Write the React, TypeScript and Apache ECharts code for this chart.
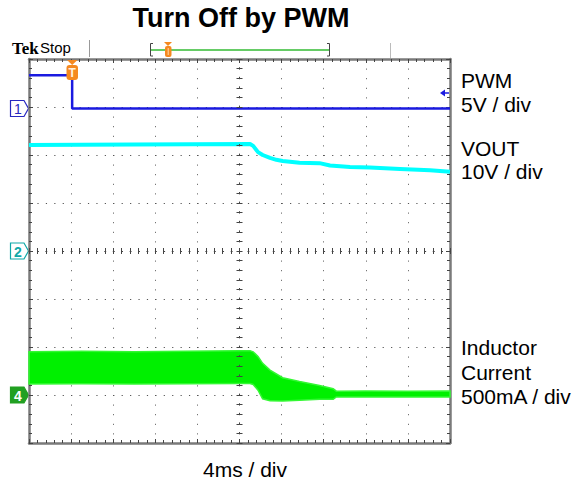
import React, { useEffect, useRef } from "react";
import * as echarts from "echarts";

// time in ms (4 ms / div, 10 divisions)
const pwmTime = [0, 4.1, 4.1, 40];
const pwmVolts = [3.3, 3.3, -0.15, -0.15];

const voutTime = [0, 10, 21.0, 21.3, 21.76, 22.2, 22.9, 23.5, 24.1, 25.7, 27.6, 28.6, 30.5, 32.4, 35.25, 38.1, 40];
const voutVolts = [22.1, 22.2, 22.3, 21.9, 20.6, 20.0, 19.4, 19.0, 18.75, 18.4, 18.3, 17.8, 17.5, 17.4, 17.1, 16.8, 16.5];

const currTime = [0, 5, 10, 15, 20, 21.0, 21.3, 21.76, 22.2, 22.9, 24.1, 25.7, 27.6, 28.9, 29.2, 32, 36, 40];
const currUpper = [0.45, 0.455, 0.45, 0.455, 0.46, 0.46, 0.45, 0.4, 0.33, 0.26, 0.18, 0.14, 0.1, 0.065, 0.04, 0.042, 0.04, 0.042];
const currLower = [0.115, 0.118, 0.115, 0.118, 0.12, 0.12, 0.11, 0.05, -0.04, -0.06, -0.063, -0.055, -0.045, -0.045, -0.02, -0.02, -0.022, -0.02];

const xTicks = { min: 0, max: 40, interval: 4 };
const yDivs = { min: -4, max: 4, interval: 1 };

const FONT = "'Liberation Sans', Arial, sans-serif";

export default function App() {
  const ref = useRef<HTMLDivElement>(null);
  useEffect(() => {
    document.body.style.margin = "0";
    if (!ref.current) return;
    const chart = echarts.init(ref.current, undefined, { renderer: "svg" });

    const borderLine = { show: true, onZero: false, lineStyle: { color: "#7a7a7a", width: 2.5 } };
    const xBase = { type: "value", ...xTicks, axisLabel: { show: false }, gridIndex: 0 };
    const yBase = { type: "value", ...yDivs, axisLabel: { show: false }, gridIndex: 0 };
    const tickStyle = { color: "#444", width: 1 };

    const xAxis: any[] = [
      {
        ...xBase,
        position: "bottom",
        axisLine: borderLine,
        axisTick: { show: true, inside: true, length: 4, lineStyle: tickStyle },
        minorTick: { show: true, splitNumber: 5, length: 3, lineStyle: tickStyle },
        splitLine: { show: true, lineStyle: { color: "#555", width: 1, type: [1, 8.6] } },
      },
      {
        ...xBase,
        position: "top",
        axisLine: borderLine,
        axisTick: { show: true, inside: true, length: 4, lineStyle: tickStyle },
        minorTick: { show: true, splitNumber: 5, length: 3, lineStyle: tickStyle },
        splitLine: { show: false },
      },
      {
        ...xBase,
        position: "bottom",
        offset: -192,
        z: 10,
        axisLine: { show: true, onZero: false, lineStyle: { color: "#444", width: 1, type: [1, 7.42] } },
        axisTick: { show: true, inside: true, length: 3, lineStyle: tickStyle },
        minorTick: { show: true, splitNumber: 5, length: 3, lineStyle: tickStyle },
        splitLine: { show: false },
      },
      {
        ...xBase,
        position: "bottom",
        offset: -192,
        z: 10,
        axisLine: { show: false, onZero: false },
        axisTick: { show: true, inside: false, length: 3, lineStyle: tickStyle },
        minorTick: { show: true, splitNumber: 5, length: 3, lineStyle: tickStyle },
        splitLine: { show: false },
      },
    ];

    const yAxis: any[] = [
      {
        ...yBase,
        position: "left",
        axisLine: borderLine,
        axisTick: { show: true, inside: true, length: 4, lineStyle: tickStyle },
        minorTick: { show: true, splitNumber: 5, length: 3, lineStyle: tickStyle },
        splitLine: { show: true, lineStyle: { color: "#555", width: 1, type: [1.2, 7.22] } },
      },
      {
        ...yBase,
        position: "right",
        axisLine: borderLine,
        axisTick: { show: true, inside: true, length: 4, lineStyle: tickStyle },
        minorTick: { show: true, splitNumber: 5, length: 3, lineStyle: tickStyle },
        splitLine: { show: false },
      },
      {
        ...yBase,
        position: "left",
        offset: -210.5,
        z: 10,
        axisLine: { show: true, onZero: false, lineStyle: { color: "#444", width: 1, type: [1, 8.6] } },
        axisTick: { show: true, inside: true, length: 3, lineStyle: tickStyle },
        minorTick: { show: true, splitNumber: 5, length: 3, lineStyle: tickStyle },
        splitLine: { show: false },
      },
      {
        ...yBase,
        position: "left",
        offset: -210.5,
        z: 10,
        axisLine: { show: false, onZero: false },
        axisTick: { show: true, inside: false, length: 3, lineStyle: tickStyle },
        minorTick: { show: true, splitNumber: 5, length: 3, lineStyle: tickStyle },
        splitLine: { show: false },
      },
      // channel axes (hidden): PWM 5V/div offset +3 div, VOUT 10V/div centered, current 0.5A/div offset -3 div
      { type: "value", show: false, min: -35, max: 5 },
      { type: "value", show: false, min: -40, max: 40 },
      { type: "value", show: false, min: -0.5, max: 3.5 },
    ];

    const pwmData = pwmTime.map((t, i) => [t, pwmVolts[i]]);
    const voutData = voutTime.map((t, i) => [t, voutVolts[i]]);
    const bandData = currTime.map((t, i) => [t, currLower[i], currUpper[i]]);

    const green = "#00f000";

    const markerPoly = (cy: number) => [
      [10.5, cy - 8],
      [24, cy - 8],
      [28.5, cy],
      [24, cy + 8],
      [10.5, cy + 8],
    ];

    const label = (text: string, y: number) => ({
      type: "text",
      style: { text, x: 461, y, font: `21px ${FONT}`, fill: "#000", align: "left", verticalAlign: "middle" },
    });

    const orange = "#f5891f";

    const option: any = {
      animation: false,
      grid: { left: 29, top: 59, width: 421, height: 384, containLabel: false },
      xAxis,
      yAxis,
      series: [
        {
          type: "custom",
          name: "Inductor Current",
          xAxisIndex: 0,
          yAxisIndex: 6,
          data: bandData,
          encode: { x: 0, y: [1, 2] },
          z: 4,
          renderItem: (params: any, api: any) => {
            if (params.dataIndex !== 0) return null;
            const upper = bandData.map((d) => api.coord([d[0], d[2]]));
            const lower = bandData.map((d) => api.coord([d[0], d[1]])).reverse();
            return {
              type: "polygon",
              shape: { points: upper.concat(lower) },
              style: { fill: green, stroke: "#33f833", lineWidth: 1.5 },
            };
          },
        },
        {
          type: "line",
          name: "PWM",
          xAxisIndex: 0,
          yAxisIndex: 4,
          data: pwmData,
          showSymbol: false,
          symbol: "none",
          lineStyle: { color: "#1a1ae0", width: 2.5 },
          z: 5,
        },
        {
          type: "line",
          name: "VOUT",
          xAxisIndex: 0,
          yAxisIndex: 5,
          data: voutData,
          symbol: "none",
          lineStyle: { color: "#00ffff", width: 4 },
          z: 5,
        },
      ],
      graphic: [
        {
          type: "text",
          style: { text: "Turn Off by PWM", x: 241, y: 18, font: `bold 27px ${FONT}`, fill: "#000", align: "center", verticalAlign: "middle" },
        },
        {
          type: "text",
          style: { text: "4ms / div", x: 245, y: 469, font: `21px ${FONT}`, fill: "#000", align: "center", verticalAlign: "middle" },
        },
        label("PWM", 80),
        label("5V / div", 104),
        label("VOUT", 148),
        label("10V / div", 171),
        label("Inductor", 347),
        label("Current", 372),
        label("500mA / div", 396),
        {
          type: "text",
          style: { text: "Tek", x: 12, y: 48, font: `bold 17px 'Liberation Serif', serif`, fill: "#000", align: "left", verticalAlign: "middle" },
        },
        {
          type: "text",
          style: { text: "Stop", x: 40, y: 47, font: `15px ${FONT}`, fill: "#000", align: "left", verticalAlign: "middle" },
        },
        { type: "line", shape: { x1: 89.5, y1: 40, x2: 89.5, y2: 57 }, style: { stroke: "#999", lineWidth: 1 } },
        { type: "line", shape: { x1: 390.5, y1: 43, x2: 390.5, y2: 58 }, style: { stroke: "#bbb", lineWidth: 1 } },
        { type: "line", shape: { x1: 150, y1: 50, x2: 330, y2: 50 }, style: { stroke: "#66cc66", lineWidth: 2 } },
        { type: "polyline", shape: { points: [[153, 43.5], [150.5, 43.5], [150.5, 56], [153, 56]] }, style: { stroke: "#444", lineWidth: 1, fill: "none" } },
        { type: "polyline", shape: { points: [[327, 43.5], [329.5, 43.5], [329.5, 56], [327, 56]] }, style: { stroke: "#444", lineWidth: 1, fill: "none" } },
        { type: "polygon", shape: { points: [[164, 42], [172, 42], [168, 46]] }, style: { fill: orange } },
        { type: "rect", shape: { x: 165, y: 46, width: 6.5, height: 11, r: 2 }, style: { fill: orange } },
        { type: "line", shape: { x1: 168.2, y1: 48, x2: 168.2, y2: 55 }, style: { stroke: "#ffd9a8", lineWidth: 1 } },
        // trigger marker in plot
        { type: "polygon", z: 20, shape: { points: [[67, 60], [77.5, 60], [72.2, 65]] }, style: { fill: orange } },
        { type: "rect", z: 20, shape: { x: 66.5, y: 65, width: 11.5, height: 15, r: 3 }, style: { fill: orange } },
        {
          type: "text",
          z: 21,
          style: { text: "T", x: 72.2, y: 73, font: `bold 12px ${FONT}`, fill: "#fff2e0", align: "center", verticalAlign: "middle" },
        },
        // channel markers
        { type: "polygon", shape: { points: markerPoly(108.5) }, style: { fill: "#fff", stroke: "#2828c0", lineWidth: 1.2 } },
        { type: "text", style: { text: "1", x: 18, y: 109, font: `14px ${FONT}`, fill: "#2828c0", align: "center", verticalAlign: "middle" } },
        { type: "polygon", shape: { points: markerPoly(251) }, style: { fill: "#fff", stroke: "#10a8a8", lineWidth: 1.2 } },
        { type: "text", style: { text: "2", x: 18, y: 251.5, font: `bold 14px ${FONT}`, fill: "#10a8a8", align: "center", verticalAlign: "middle" } },
        { type: "polygon", shape: { points: markerPoly(395) }, style: { fill: "#22a022", stroke: "#22a022", lineWidth: 1.2 } },
        { type: "text", style: { text: "4", x: 18, y: 395.5, font: `bold 14px ${FONT}`, fill: "#fff", align: "center", verticalAlign: "middle" } },
        // trigger level arrow
        { type: "polygon", shape: { points: [[440, 93], [445, 89.5], [445, 96.5]] }, style: { fill: "#1a1ae0" } },
        { type: "line", shape: { x1: 445, y1: 93, x2: 449, y2: 93 }, style: { stroke: "#1a1ae0", lineWidth: 1.5 } },
      ],
    };

    chart.setOption(option);
    return () => chart.dispose();
  }, []);
  return <div ref={ref} style={{ width: 584, height: 480 }} />;
}
